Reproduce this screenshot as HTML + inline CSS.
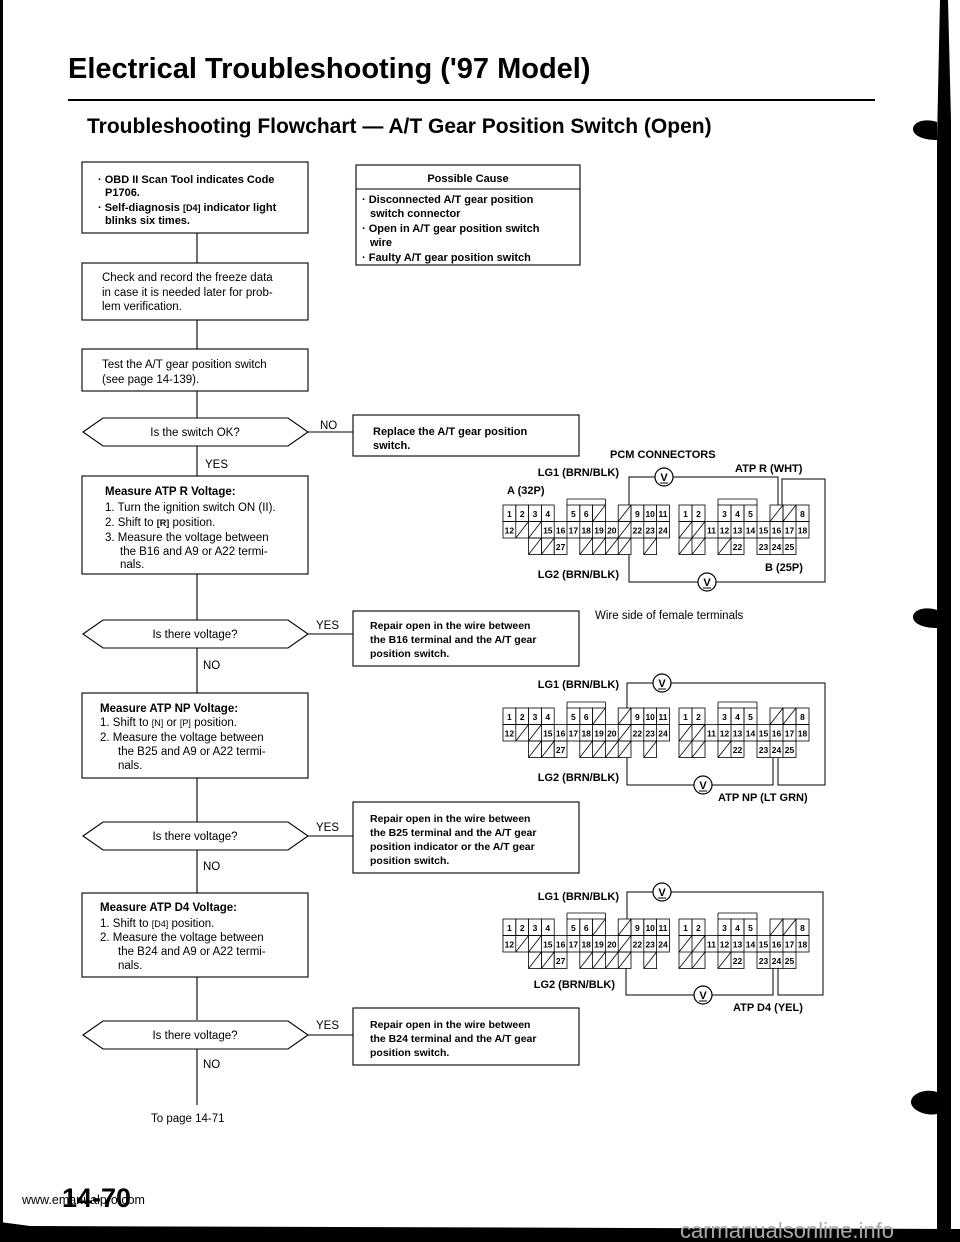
<!DOCTYPE html>
<html><head><meta charset="utf-8"><style>
html,body{margin:0;padding:0;background:#fff;}
svg{display:block;}
text{font-family:"Liberation Sans",sans-serif;fill:#000;}
.b{font-weight:bold;}
.t{font-size:11.5px;}
.c{font-size:8.5px;font-weight:bold;text-anchor:middle;}
.lb{font-size:11px;font-weight:bold;}
</style></head><body>
<svg width="960" height="1242" viewBox="0 0 960 1242" xmlns="http://www.w3.org/2000/svg">
<defs>
<g id="conn" stroke="#000" stroke-width="0.8" fill="none">
 <g>
  <rect x="0" y="0" width="12.8" height="16.5"/><rect x="12.8" y="0" width="12.8" height="16.5"/><rect x="25.6" y="0" width="12.8" height="16.5"/><rect x="38.4" y="0" width="12.8" height="16.5"/>
  <rect x="64" y="0" width="12.8" height="16.5"/><rect x="76.8" y="0" width="12.8" height="16.5"/><rect x="89.6" y="0" width="12.8" height="16.5"/><line x1="89.6" y1="16.5" x2="102.4" y2="0"/>
  <path d="M64,-6 H102.4 M64,-6 V0 M102.4,-6 V0"/>
  <rect x="115.2" y="0" width="12.8" height="16.5"/><line x1="115.2" y1="16.5" x2="128" y2="0"/>
  <rect x="128" y="0" width="12.8" height="16.5"/><rect x="140.8" y="0" width="12.8" height="16.5"/><rect x="153.6" y="0" width="12.8" height="16.5"/>
  <rect x="0" y="16.5" width="166.4" height="16.5"/>
  <path d="M12.8,16.5V33 M25.6,16.5V33 M38.4,16.5V33 M51.2,16.5V33 M64,16.5V33 M76.8,16.5V33 M89.6,16.5V33 M102.4,16.5V33 M115.2,16.5V33 M128,16.5V33 M140.8,16.5V33 M153.6,16.5V33"/>
  <path d="M12.8,33L25.6,16.5 M25.6,33L38.4,16.5 M115.2,33L128,16.5"/>
  <rect x="25.6" y="33" width="12.8" height="16.5"/><rect x="38.4" y="33" width="12.8" height="16.5"/><rect x="51.2" y="33" width="12.8" height="16.5"/>
  <path d="M25.6,49.5L38.4,33 M38.4,49.5L51.2,33"/>
  <rect x="76.8" y="33" width="51.2" height="16.5"/><path d="M89.6,33V49.5 M102.4,33V49.5 M115.2,33V49.5 M76.8,49.5L89.6,33 M89.6,49.5L102.4,33 M102.4,49.5L115.2,33 M115.2,49.5L128,33"/>
  <rect x="140.8" y="33" width="12.8" height="16.5"/><line x1="140.8" y1="49.5" x2="153.6" y2="33"/>
 </g>
 <g transform="translate(176,0)">
  <rect x="0" y="0" width="13" height="16.5"/><rect x="13" y="0" width="13" height="16.5"/>
  <rect x="39" y="0" width="13" height="16.5"/><rect x="52" y="0" width="13" height="16.5"/><rect x="65" y="0" width="13" height="16.5"/>
  <path d="M39,-6H78 M39,-6V0 M78,-6V0"/>
  <rect x="91" y="0" width="13" height="16.5"/><rect x="104" y="0" width="13" height="16.5"/><rect x="117" y="0" width="13" height="16.5"/>
  <path d="M91,16.5L104,0 M104,16.5L117,0"/>
  <rect x="0" y="16.5" width="26" height="33"/><path d="M13,16.5V49.5 M0,33H26 M0,49.5L26,16.5 M0,33L13,16.5 M13,49.5L26,33"/>
  <rect x="26" y="16.5" width="104" height="16.5"/>
  <path d="M39,16.5V33 M52,16.5V33 M65,16.5V33 M78,16.5V33 M91,16.5V33 M104,16.5V33 M117,16.5V33"/>
  <rect x="39" y="33" width="26" height="16.5"/><path d="M52,33V49.5 M39,49.5L52,33"/>
  <rect x="78" y="33" width="39" height="16.5"/><path d="M91,33V49.5 M104,33V49.5"/>
 </g>
 <g stroke="none" fill="#000">
  <text class="c" x="6.4" y="12">1</text><text class="c" x="19.2" y="12">2</text><text class="c" x="32" y="12">3</text><text class="c" x="44.8" y="12">4</text>
  <text class="c" x="70.4" y="12">5</text><text class="c" x="83.2" y="12">6</text>
  <text class="c" x="134.4" y="12">9</text><text class="c" x="147.2" y="12">10</text><text class="c" x="160" y="12">11</text>
  <text class="c" x="6.4" y="28.5">12</text><text class="c" x="44.8" y="28.5">15</text><text class="c" x="57.6" y="28.5">16</text><text class="c" x="70.4" y="28.5">17</text><text class="c" x="83.2" y="28.5">18</text><text class="c" x="96" y="28.5">19</text><text class="c" x="108.8" y="28.5">20</text>
  <text class="c" x="134.4" y="28.5">22</text><text class="c" x="147.2" y="28.5">23</text><text class="c" x="160" y="28.5">24</text>
  <text class="c" x="57.6" y="45">27</text>
  <text class="c" x="182.5" y="12">1</text><text class="c" x="195.5" y="12">2</text><text class="c" x="221.5" y="12">3</text><text class="c" x="234.5" y="12">4</text><text class="c" x="247.5" y="12">5</text><text class="c" x="299.5" y="12">8</text>
  <text class="c" x="208.5" y="28.5">11</text><text class="c" x="221.5" y="28.5">12</text><text class="c" x="234.5" y="28.5">13</text><text class="c" x="247.5" y="28.5">14</text><text class="c" x="260.5" y="28.5">15</text><text class="c" x="273.5" y="28.5">16</text><text class="c" x="286.5" y="28.5">17</text><text class="c" x="299.5" y="28.5">18</text>
  <text class="c" x="234.5" y="45">22</text><text class="c" x="260.5" y="45">23</text><text class="c" x="273.5" y="45">24</text><text class="c" x="286.5" y="45">25</text>
 </g>
</g>
<g id="vm"><circle cx="0" cy="0" r="9" fill="#fff" stroke="#000" stroke-width="1.2"/><text x="0" y="4" style="font-size:11px;font-weight:bold;text-anchor:middle">V</text><line x1="-4" y1="6" x2="4" y2="6" stroke="#000" stroke-width="1"/></g>
</defs>

<rect x="0" y="0" width="3" height="1242" fill="#000"/>
<path d="M940,0 L948,0 L951,120 L951,1242 L937,1242 L937,140 Z" fill="#000"/>
<path d="M937,122 C925,118 912,122 913,130 C915,138 928,140 937,140 Z" fill="#000"/>
<path d="M937,610 C925,606 912,610 913,618 C915,626 928,628 937,628 Z" fill="#000"/>
<path d="M937,1092 C925,1088 910,1094 911,1103 C913,1112 928,1116 937,1114 Z" fill="#000"/>
<path d="M0,1222 L30,1226 L960,1229 L960,1242 L0,1242 Z" fill="#000"/>

<text x="68" y="78" class="b" style="font-size:29px">Electrical Troubleshooting ('97 Model)</text>
<rect x="68" y="99" width="807" height="2" fill="#000"/>
<text x="87" y="133" class="b" style="font-size:21px">Troubleshooting Flowchart — A/T Gear Position Switch (Open)</text>

<g stroke="#000" stroke-width="1.1" fill="none">
 <path d="M197,233V263 M197,320V349 M197,391V418 M197,446V476 M197,574V620 M197,648V693 M197,778V822 M197,850V893 M197,977V1020 M197,1049V1105"/>
 <rect x="82" y="162" width="226" height="71"/>
 <rect x="82" y="263" width="226" height="57"/>
 <rect x="82" y="349" width="226" height="42"/>
 <polygon points="83,432 103,418 288,418 308,432 288,446 103,446"/>
 <rect x="82" y="476" width="226" height="98"/>
 <polygon points="83,634 103,620 288,620 308,634 288,648 103,648"/>
 <rect x="82" y="693" width="226" height="85"/>
 <polygon points="83,836 103,822 288,822 308,836 288,850 103,850"/>
 <rect x="82" y="893" width="226" height="84"/>
 <polygon points="83,1035 103,1021 288,1021 308,1035 288,1049 103,1049"/>
 <path d="M308,432H353 M308,634H353 M308,836H353 M308,1035H353"/>
 <rect x="356" y="165" width="224" height="100"/>
 <line x1="356" y1="189" x2="580" y2="189"/>
 <rect x="353" y="415" width="226" height="41"/>
 <rect x="353" y="611" width="226" height="55"/>
 <rect x="353" y="802" width="226" height="71"/>
 <rect x="353" y="1008" width="226" height="57"/>
</g>

<g class="t">
 <text class="b" x="98" y="183" style="font-size:11px">· OBD II Scan Tool indicates Code</text>
 <text class="b" x="105" y="196" style="font-size:11px">P1706.</text>
 <text class="b" x="98" y="211" style="font-size:11px">· Self-diagnosis <tspan style="font-size:9px">[D4]</tspan> indicator light</text>
 <text class="b" x="105" y="224" style="font-size:11px">blinks six times.</text>

 <text x="102" y="281">Check and record the freeze data</text>
 <text x="102" y="296">in case it is needed later for prob-</text>
 <text x="102" y="310">lem verification.</text>

 <text x="102" y="368">Test the A/T gear position switch</text>
 <text x="102" y="383">(see page 14-139).</text>

 <text x="195" y="436" text-anchor="middle">Is the switch OK?</text>
 <text x="320" y="429">NO</text>
 <text x="205" y="468">YES</text>

 <text class="b" x="105" y="495">Measure ATP R Voltage:</text>
 <text x="105" y="511">1.  Turn the ignition switch ON (II).</text>
 <text x="105" y="526">2.  Shift to <tspan style="font-size:9px;font-weight:bold">[R]</tspan> position.</text>
 <text x="105" y="541">3.  Measure the voltage between</text>
 <text x="120" y="555">the B16 and A9 or A22 termi-</text>
 <text x="120" y="568">nals.</text>

 <text x="195" y="638" text-anchor="middle">Is there voltage?</text>
 <text x="316" y="629">YES</text>
 <text x="203" y="669">NO</text>

 <text class="b" x="100" y="712">Measure ATP NP Voltage:</text>
 <text x="100" y="726">1.  Shift to <tspan style="font-size:9px">[N]</tspan> or <tspan style="font-size:9px">[P]</tspan> position.</text>
 <text x="100" y="741">2.  Measure the voltage between</text>
 <text x="118" y="755">the B25 and A9 or A22 termi-</text>
 <text x="118" y="769">nals.</text>

 <text x="195" y="840" text-anchor="middle">Is there voltage?</text>
 <text x="316" y="831">YES</text>
 <text x="203" y="870">NO</text>

 <text class="b" x="100" y="911">Measure ATP D4 Voltage:</text>
 <text x="100" y="927">1.  Shift to <tspan style="font-size:9px">[D4]</tspan> position.</text>
 <text x="100" y="941">2.  Measure the voltage between</text>
 <text x="118" y="955">the B24 and A9 or A22 termi-</text>
 <text x="118" y="969">nals.</text>

 <text x="195" y="1039" text-anchor="middle">Is there voltage?</text>
 <text x="316" y="1029">YES</text>
 <text x="203" y="1068">NO</text>
 <text x="151" y="1122">To page 14-71</text>

 <text class="b" x="468" y="182" text-anchor="middle" style="font-size:11px">Possible Cause</text>
 <text class="b" x="362" y="203" style="font-size:11px">· Disconnected A/T gear position</text>
 <text class="b" x="370" y="217" style="font-size:11px">switch connector</text>
 <text class="b" x="362" y="232" style="font-size:11px">· Open in A/T gear position switch</text>
 <text class="b" x="370" y="246" style="font-size:11px">wire</text>
 <text class="b" x="362" y="261" style="font-size:11px">· Faulty A/T gear position switch</text>

 <text class="b" x="373" y="435" style="font-size:11px">Replace the A/T gear position</text>
 <text class="b" x="373" y="449" style="font-size:11px">switch.</text>

 <text class="b" x="370" y="629" style="font-size:10.5px">Repair open in the wire between</text>
 <text class="b" x="370" y="643" style="font-size:10.5px">the B16 terminal and the A/T gear</text>
 <text class="b" x="370" y="657" style="font-size:10.5px">position switch.</text>

 <text class="b" x="370" y="822" style="font-size:10.5px">Repair open in the wire between</text>
 <text class="b" x="370" y="836" style="font-size:10.5px">the B25 terminal and the A/T gear</text>
 <text class="b" x="370" y="850" style="font-size:10.5px">position indicator or the A/T gear</text>
 <text class="b" x="370" y="864" style="font-size:10.5px">position switch.</text>

 <text class="b" x="370" y="1028" style="font-size:10.5px">Repair open in the wire between</text>
 <text class="b" x="370" y="1042" style="font-size:10.5px">the B24 terminal and the A/T gear</text>
 <text class="b" x="370" y="1056" style="font-size:10.5px">position switch.</text>
</g>

<use href="#conn" x="503" y="505"/>
<use href="#conn" x="503" y="708"/>
<use href="#conn" x="503" y="919"/>

<g stroke="#000" stroke-width="1" fill="none">
 <path d="M629,505V477H778V505 M782,505V479H825V582H629V555"/>
 <path d="M627,708V683H825V785H778V758 M773,758V785H627V758"/>
 <path d="M627,919V892H823V995H778V968 M773,968V995H626V968"/>
</g>
<use href="#vm" x="664" y="477"/><use href="#vm" x="707" y="582"/>
<use href="#vm" x="662" y="683"/><use href="#vm" x="703" y="785"/>
<use href="#vm" x="662" y="892"/><use href="#vm" x="703" y="995"/>

<g class="lb">
 <text x="610" y="458">PCM CONNECTORS</text>
 <text x="619" y="476" text-anchor="end">LG1 (BRN/BLK)</text>
 <text x="507" y="494">A (32P)</text>
 <text x="735" y="472">ATP R (WHT)</text>
 <text x="619" y="578" text-anchor="end">LG2 (BRN/BLK)</text>
 <text x="765" y="571">B (25P)</text>
 <text x="619" y="688" text-anchor="end">LG1 (BRN/BLK)</text>
 <text x="619" y="781" text-anchor="end">LG2 (BRN/BLK)</text>
 <text x="718" y="801">ATP NP (LT GRN)</text>
 <text x="619" y="900" text-anchor="end">LG1 (BRN/BLK)</text>
 <text x="615" y="988" text-anchor="end">LG2 (BRN/BLK)</text>
 <text x="733" y="1011">ATP D4 (YEL)</text>
</g>
<text x="595" y="619" style="font-size:11.5px">Wire side of female terminals</text>

<text x="22" y="1204" style="font-size:12.5px">www.emanualpro.com</text>
<text x="62" y="1207" class="b" style="font-size:27px">14-70</text>
<text x="680" y="1238" style="font-size:22px;fill:#aaa">carmanualsonline.info</text>
</svg>
</body></html>
